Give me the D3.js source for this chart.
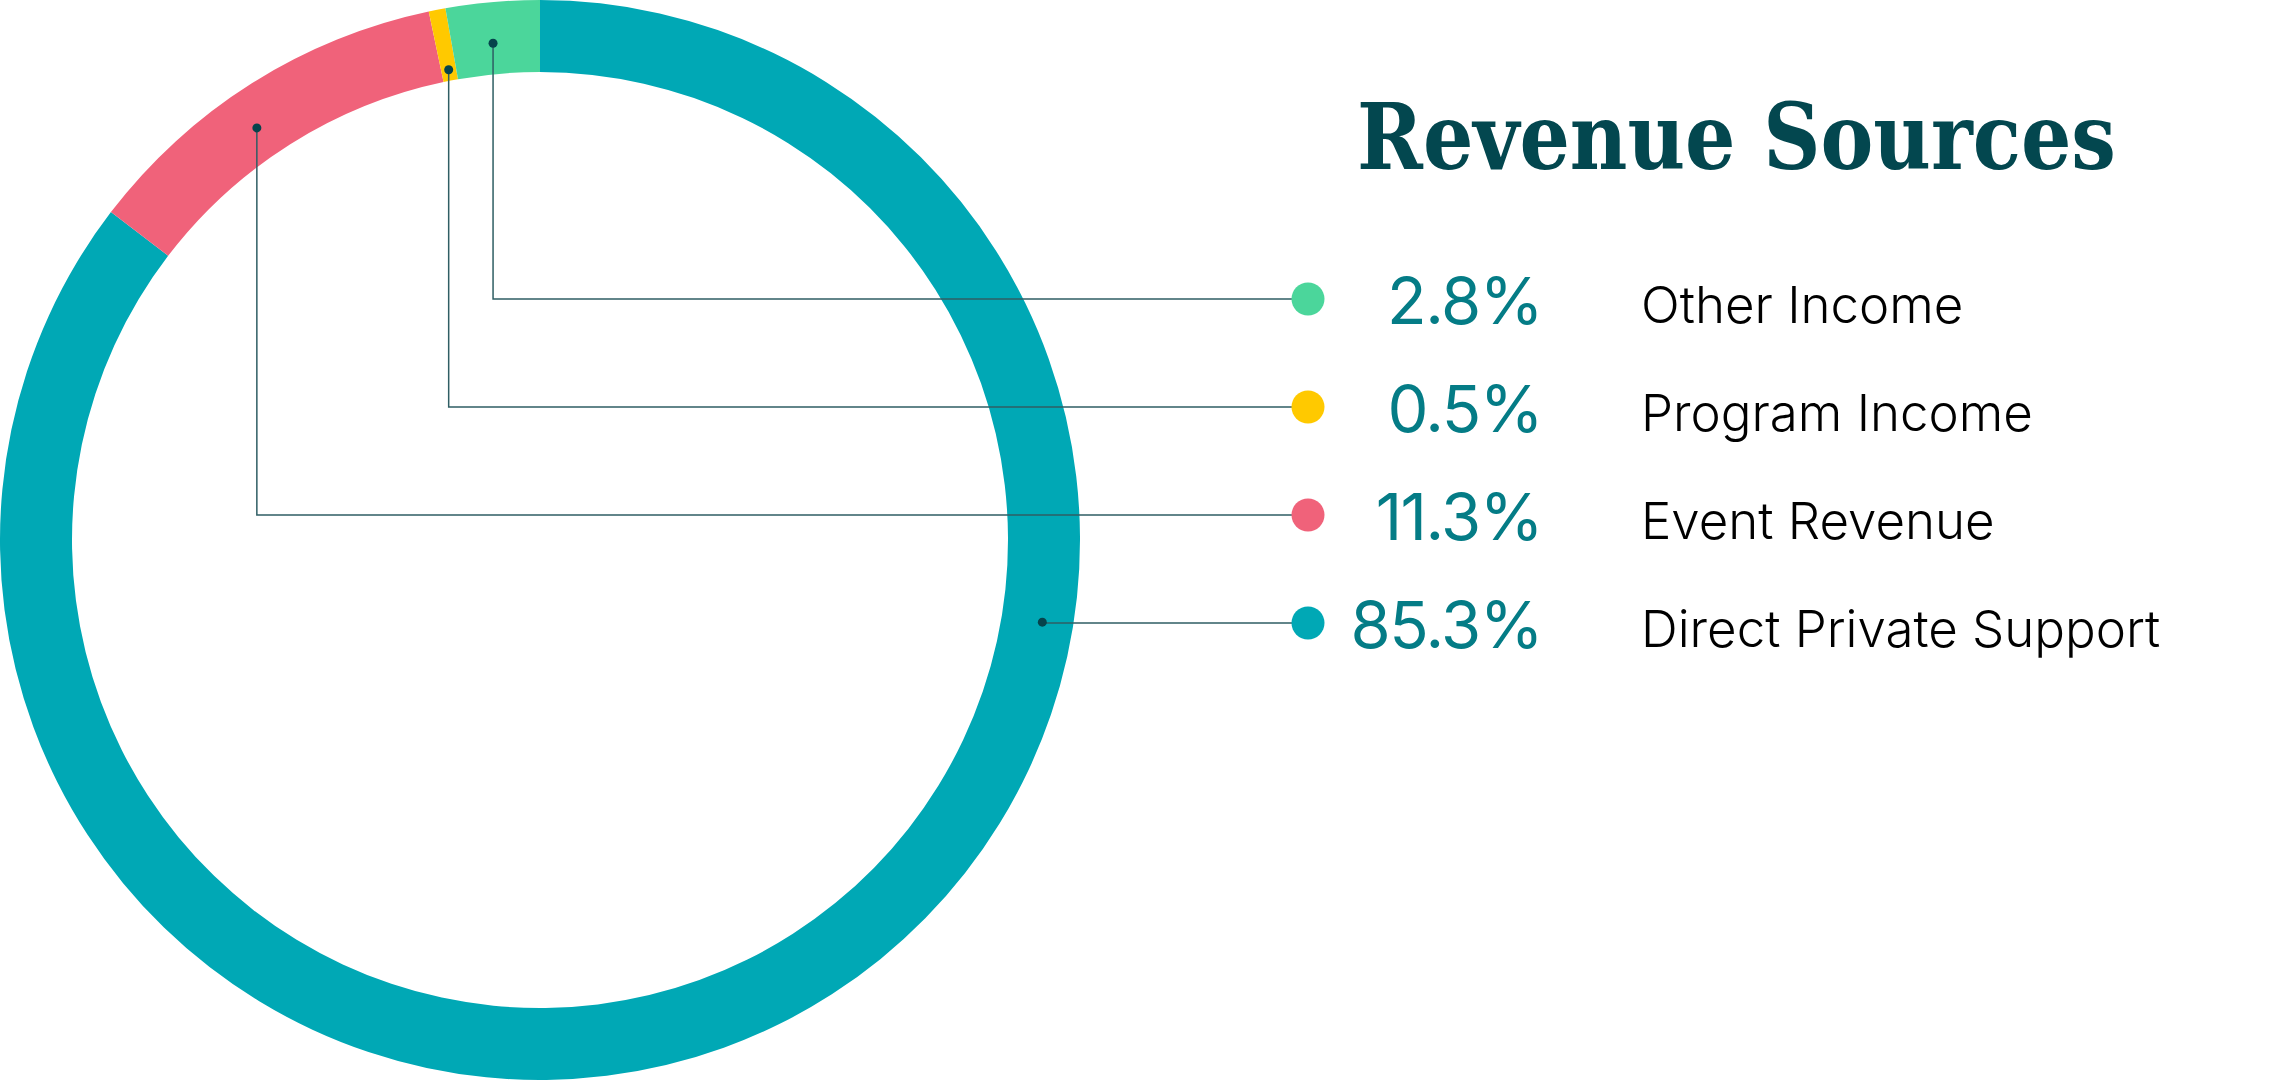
<!DOCTYPE html>
<html>
<head>
<meta charset="utf-8">
<script src="https://cdn.jsdelivr.net/npm/d3@7"></script>
<style>
    html, body { margin: 0; padding: 0; background: #ffffff; }
    svg { display: block; }
</style>
</head>
<body>
<div class="vis-chart"></div>
<script>
// legend order, top to bottom
const categories = ['Other Income', 'Program Income', 'Event Revenue', 'Direct Private Support']
const shares = [2.8, 0.5, 11.3, 85.3]
const pctLabels = ['2.8%', '0.5%', '11.3%', '85.3%']
const colours = ['#4bd69b', '#ffc900', '#f0627a', '#00a8b5']

// where the leader line touches its slice: fraction along the slice (clockwise), radius
const anchorFrac = [0.465, 0.5, 0.445, 0.323]
const anchorRad = [499, 479, 500, 509]

const width = 2279, height = 1080
const cx = 540, cy = 540
const outerR = 540, innerR = 468

const svg = d3.select('.vis-chart').append('svg')
    .attr('width', width)
    .attr('height', height)

// pie runs clockwise from 12 o'clock: Direct first, then the small ones back to the top
const pieOrder = [3, 2, 1, 0]
const pie = d3.pie()
    .sort(null)
    .value(i => shares[i])
const arcs = pie(pieOrder)

const arc = d3.arc()
    .innerRadius(innerR)
    .outerRadius(outerR)

const ring = svg.append('g')
    .attr('transform', 'translate(' + cx + ',' + cy + ')')

ring.selectAll('path')
    .data(arcs)
    .enter().append('path')
    .attr('d', arc)
    .attr('fill', d => colours[d.data])

/* ***** legend rows ***** */
const yScale = d3.scalePoint()
    .domain(categories)
    .range([299, 623])

const legendX = 1308

function anchorPoint(i) {
    const a = arcs.find(d => d.data === i)
    const ang = a.startAngle + (a.endAngle - a.startAngle) * anchorFrac[i]
    return [cx + anchorRad[i] * Math.sin(ang), cy - anchorRad[i] * Math.cos(ang)]
}

const lines = svg.append('g')
categories.forEach((c, i) => {
    const p = anchorPoint(i)
    const y = yScale(c)
    lines.append('path')
        .attr('d', 'M' + legendX + ',' + y + 'H' + p[0] + 'V' + p[1])
        .attr('fill', 'none')
        .attr('stroke', '#2f5e64')
        .attr('stroke-width', 1.5)
    lines.append('circle')
        .attr('cx', p[0])
        .attr('cy', p[1])
        .attr('r', 4.5)
        .attr('fill', '#06434c')
})

const legend = svg.append('g')
legend.selectAll('circle')
    .data(categories)
    .enter().append('circle')
    .attr('cx', legendX)
    .attr('cy', d => yScale(d))
    .attr('r', 16.5)
    .attr('fill', (d, i) => colours[i])

legend.selectAll('text.pct')
    .data(categories)
    .enter().append('text')
    .attr('class', 'pct')
    .attr('x', 1542)
    .attr('y', d => yScale(d) + 25)
    .attr('text-anchor', 'end')
    .style('font-family', 'Inter, "Open Sans", sans-serif')
    .style('font-weight', 400)
    .style('font-size', '65px')
    .style('letter-spacing', '-1.5px')
    .style('fill', '#047c86')
    .text((d, i) => pctLabels[i])

legend.selectAll('text.name')
    .data(categories)
    .enter().append('text')
    .attr('class', 'name')
    .attr('x', 1641)
    .attr('y', d => yScale(d) + 24)
    .style('font-family', 'Inter, "Open Sans", sans-serif')
    .style('font-weight', 350)
    .style('font-size', '51px')
    .style('fill', '#000000')
    .text(d => d)

/* ***** title ***** */
svg.append('text')
    .attr('x', 1357)
    .attr('y', 169)
    .attr('textLength', 759)
    .attr('lengthAdjust', 'spacingAndGlyphs')
    .style('font-family', '"DejaVu Serif", serif')
    .style('font-weight', 'bold')
    .style('font-size', '92px')
    .style('fill', '#03474f')
    .text('Revenue Sources')
</script>
</body>
</html>
